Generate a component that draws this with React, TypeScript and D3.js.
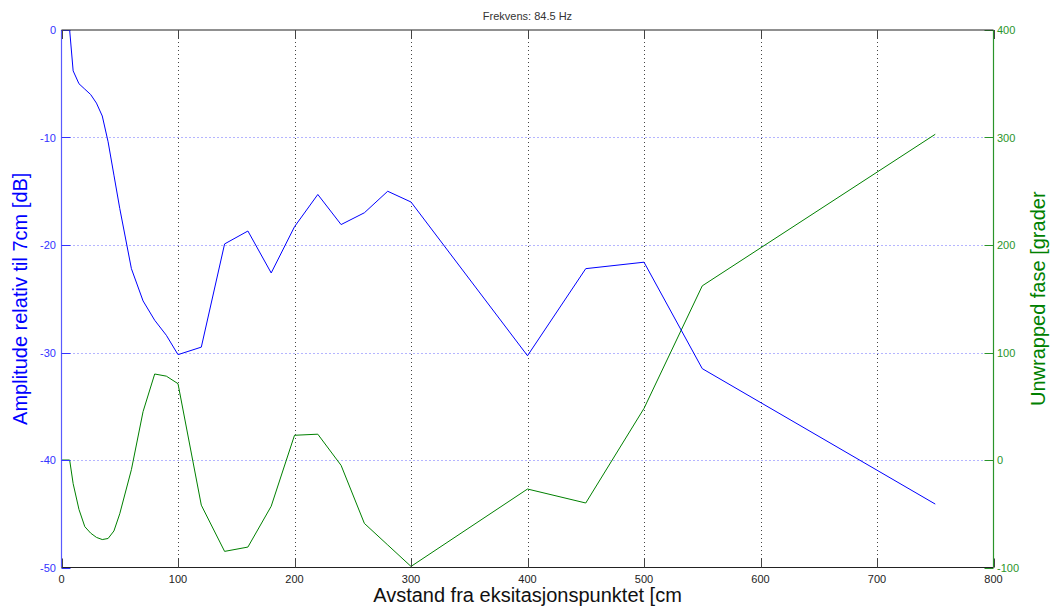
import React from "react";
import * as d3 from "d3";

const phaseDistances = [0, 7, 10, 15, 20, 25, 30, 35, 40, 45, 50, 60, 70, 80, 90, 100, 120, 140, 160, 180, 200, 220, 240, 260, 280, 300, 400, 450, 500, 550, 750];
const phaseDeg = [0, 0, -22, -46, -62, -68, -72, -74, -73, -66, -50, -9, 45, 80, 78, 71, -42, -85, -81, -43, 23, 24, -5, -59, -79, -99, -27, -40, 48, 162, 303];

const ampDistances = [7, 10, 15, 20, 25, 30, 35, 40, 45, 50, 60, 70, 80, 90, 100, 120, 140, 160, 180, 200, 220, 240, 260, 280, 300, 400, 450, 500, 550, 750];
const amplitudeDb = [0, -3.8, -5.0, -5.5, -6.0, -6.8, -8.0, -10.4, -13.5, -16.6, -22.2, -25.2, -27.0, -28.4, -30.2, -29.5, -19.9, -18.7, -22.6, -18.3, -15.3, -18.1, -17.0, -15.0, -16.0, -30.3, -22.2, -21.6, -31.5, -44.1];

const xTicks = [0, 100, 200, 300, 400, 500, 600, 700, 800];
const leftTicks = [0, -10, -20, -30, -40, -50];
const rightTicks = [400, 300, 200, 100, 0, -100];

const title = "Frekvens: 84.5 Hz";
const xLabel = "Avstand fra eksitasjonspunktet [cm";
const leftLabel = "Amplitude relativ til 7cm [dB]";
const rightLabel = "Unwrapped fase [grader";

const W = 1051, H = 612;
const L = 61.5, R = 993.5, T = 30, B = 567.5;

export default function App() {
  const x = d3.scaleLinear().domain([0, 800]).range([L, R]);
  const yL = d3.scaleLinear().domain([-50, 0]).range([B, T]);
  const yR = d3.scaleLinear().domain([-100, 400]).range([B, T]);

  const ampLine = d3.line<number>().x((_, i) => x(ampDistances[i])).y((d) => yL(d));
  const phaseLine = d3.line<number>().x((_, i) => x(phaseDistances[i])).y((d) => yR(d));

  const font = "Arial, 'Liberation Sans', sans-serif";

  return (
    <svg width={W} height={H} style={{ position: "absolute", left: 0, top: 0, background: "#fff" }} fontFamily={font}>
      <rect x={0} y={0} width={W} height={H} fill="#fff" />
      {xTicks.filter((t) => t > 0 && t < 800).map((t) => (
        <line key={"vg" + t} x1={Math.round(x(t)) + 0.5} x2={Math.round(x(t)) + 0.5} y1={T} y2={B} stroke="#444" strokeWidth={1} strokeDasharray="1,3" />
      ))}
      {leftTicks.filter((t) => t < 0 && t > -50).map((t) => (
        <line key={"hg" + t} x1={L} x2={R} y1={Math.round(yL(t)) + 0.5} y2={Math.round(yL(t)) + 0.5} stroke="#6a6aff" strokeWidth={1} strokeDasharray="1,3" />
      ))}
      <path d={phaseLine(phaseDeg) ?? ""} fill="none" stroke="#008000" strokeWidth={1} />
      <path d={ampLine(amplitudeDb) ?? ""} fill="none" stroke="#0000ff" strokeWidth={1} />
      <line x1={L} x2={L} y1={T} y2={B} stroke="#5a5aff" strokeWidth={1.2} />
      {leftTicks.map((t) => (
        <g key={"lt" + t}>
          <line x1={L} x2={L + 9} y1={Math.round(yL(t)) + 0.5} y2={Math.round(yL(t)) + 0.5} stroke="#3333ff" />
          <text x={56} y={yL(t) + 4} textAnchor="end" fontSize={11} fill="#3333ff">{t}</text>
        </g>
      ))}
      <line x1={R} x2={R} y1={T} y2={B} stroke="#2a942a" strokeWidth={1.2} />
      {rightTicks.map((t) => (
        <g key={"rt" + t}>
          <line x1={R - 9} x2={R} y1={Math.round(yR(t)) + 0.5} y2={Math.round(yR(t)) + 0.5} stroke="#2a942a" />
          <text x={997} y={yR(t) + 4} textAnchor="start" fontSize={11} fill="#2a942a">{t}</text>
        </g>
      ))}
      <line x1={L} x2={R} y1={T} y2={T} stroke="#222" strokeWidth={1.2} />
      <line x1={L} x2={R} y1={B} y2={B} stroke="#222" strokeWidth={1.2} />
      {xTicks.map((t) => (
        <g key={"xt" + t}>
          <line x1={Math.round(x(t)) + 0.5} x2={Math.round(x(t)) + 0.5} y1={B} y2={B - 9} stroke="#444" />
          <line x1={Math.round(x(t)) + 0.5} x2={Math.round(x(t)) + 0.5} y1={T} y2={T + 9} stroke="#444" />
          <text x={x(t)} y={583} textAnchor="middle" fontSize={11} fill="#222">{t}</text>
        </g>
      ))}
      <text x={(L + R) / 2} y={20} textAnchor="middle" fontSize={11} fill="#333">{title}</text>
      <text x={(L + R) / 2} y={602} textAnchor="middle" fontSize={20} fill="#111">{xLabel}</text>
      <text transform={`translate(27,${(T + B) / 2}) rotate(-90)`} textAnchor="middle" fontSize={20} fill="#0000ff">{leftLabel}</text>
      <text transform={`translate(1045,${(T + B) / 2}) rotate(-90)`} textAnchor="middle" fontSize={20} fill="#008000">{rightLabel}</text>
    </svg>
  );
}
